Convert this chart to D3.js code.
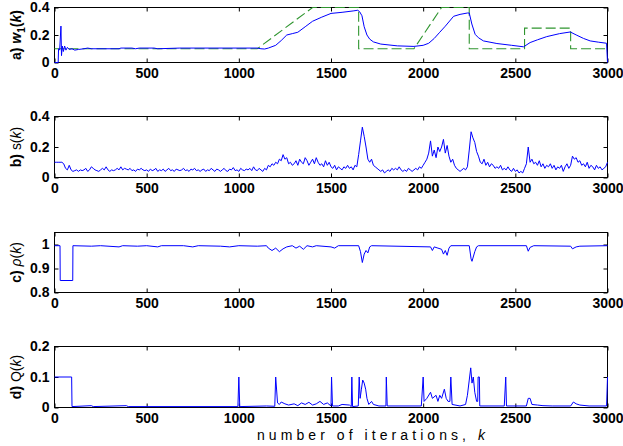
<!DOCTYPE html>
<html>
<head>
<meta charset="utf-8">
<script src="https://cdn.jsdelivr.net/npm/d3@7"></script>
<style>
body{margin:0;background:#fff}
svg text{font-family:'Liberation Sans',Arial,Helvetica,sans-serif}
.tick text{font-size:14px;font-weight:bold}
.domain{display:none}
.blue{fill:none;stroke:#0000ff;stroke-width:1}
.target{fill:none;stroke:#2f952f;stroke-width:1.1;stroke-dasharray:10,4}
</style>
</head>
<body>
<svg id="chart" width="623" height="446"></svg>
<script>
var kTicks = [0, 500, 1000, 1500, 2000, 2500, 3000]

// a) desired weight (dashed) and estimate w1(k), as [k, value]
var w1Target = [
  [0,0.1],[1100,0.1],[1400,0.4],[1650,0.4],[1650,0.1],[1950,0.1],[2100,0.4],
  [2250,0.4],[2250,0.1],[2550,0.1],[2550,0.25],[2800,0.25],[2800,0.1],[3000,0.1]
]
var w1 = [
  [0,0],[20,0],[22,0.1],[28,0.09],[35,0.265],[38,0.05],[42,0.12],[48,0.08],[55,0.12],
  [62,0.09],[70,0.11],[80,0.095],[95,0.1],[110,0.09],[130,0.095],[160,0.1],[180,0.105],
  [200,0.1],[350,0.1],[360,0.105],[420,0.105],[440,0.1],[460,0.105],[540,0.105],[560,0.1],
  [680,0.105],[1100,0.105],[1120,0.1],[1140,0.098],[1160,0.105],[1200,0.125],[1230,0.16],
  [1260,0.2],[1290,0.21],[1320,0.22],[1360,0.26],[1400,0.3],[1450,0.33],[1500,0.357],
  [1560,0.365],[1620,0.375],[1645,0.38],[1655,0.37],[1668,0.34],[1680,0.26],[1695,0.2],
  [1710,0.17],[1730,0.15],[1770,0.134],[1860,0.121],[1950,0.117],[2000,0.125],[2030,0.14],
  [2060,0.175],[2090,0.22],[2120,0.264],[2165,0.336],[2200,0.35],[2240,0.36],[2250,0.36],
  [2264,0.28],[2282,0.205],[2300,0.18],[2327,0.157],[2400,0.138],[2480,0.125],[2545,0.114],
  [2580,0.145],[2620,0.165],[2670,0.188],[2740,0.21],[2798,0.222],[2834,0.198],[2870,0.175],
  [2906,0.157],[2950,0.148],[2995,0.14],[3000,0]
]

// b) s(k), one value every 10 iterations from k = 0 to 3000
var sStep = 10
var sValues = [
  0.10,0.10,0.10,0.10,0.10,0.09,0.06,0.05,0.08,0.05,
  0.04,0.045,0.05,0.04,0.05,0.045,0.05,0.06,0.04,0.05,
  0.07,0.06,0.05,0.045,0.04,0.05,0.06,0.05,0.07,0.05,
  0.04,0.05,0.045,0.05,0.06,0.05,0.07,0.05,0.06,0.055,
  0.05,0.06,0.045,0.05,0.04,0.055,0.05,0.06,0.05,0.045,
  0.05,0.04,0.055,0.045,0.05,0.06,0.04,0.05,0.045,0.055,
  0.04,0.05,0.06,0.045,0.05,0.04,0.055,0.05,0.045,0.05,
  0.06,0.045,0.05,0.04,0.055,0.05,0.06,0.045,0.05,0.04,
  0.05,0.055,0.04,0.05,0.045,0.06,0.05,0.04,0.055,0.05,
  0.04,0.05,0.06,0.045,0.04,0.055,0.05,0.065,0.045,0.05,
  0.04,0.06,0.05,0.045,0.055,0.05,0.06,0.045,0.07,0.05,
  0.045,0.06,0.05,0.04,0.06,0.05,0.08,0.07,0.09,0.08,
  0.10,0.09,0.12,0.11,0.15,0.12,0.13,0.09,0.10,0.08,
  0.09,0.11,0.08,0.12,0.10,0.09,0.13,0.11,0.08,0.10,
  0.12,0.09,0.13,0.10,0.08,0.09,0.07,0.11,0.08,0.10,
  0.07,0.06,0.08,0.05,0.07,0.06,0.05,0.07,0.06,0.08,
  0.06,0.07,0.05,0.08,0.07,0.15,0.24,0.33,0.27,0.20,
  0.12,0.10,0.12,0.08,0.07,0.06,0.05,0.04,0.05,0.03,
  0.04,0.05,0.04,0.06,0.05,0.06,0.05,0.07,0.05,0.04,
  0.05,0.04,0.06,0.05,0.04,0.05,0.06,0.05,0.07,0.06,
  0.08,0.10,0.12,0.16,0.24,0.14,0.18,0.13,0.20,0.17,
  0.20,0.25,0.16,0.21,0.14,0.10,0.12,0.08,0.06,0.05,
  0.04,0.05,0.06,0.05,0.07,0.18,0.30,0.26,0.23,0.17,
  0.14,0.10,0.09,0.12,0.08,0.10,0.07,0.09,0.08,0.06,
  0.07,0.06,0.08,0.05,0.06,0.05,0.07,0.05,0.04,0.06,
  0.04,0.05,0.03,0.04,0.03,0.06,0.09,0.20,0.10,0.12,
  0.09,0.10,0.08,0.11,0.07,0.09,0.06,0.08,0.07,0.09,
  0.06,0.08,0.05,0.07,0.06,0.08,0.04,0.07,0.09,0.06,
  0.08,0.14,0.12,0.13,0.10,0.11,0.08,0.09,0.07,0.10,
  0.06,0.08,0.07,0.05,0.08,0.06,0.07,0.05,0.06,0.07,
  0.10
]

// c) rho(k), as [k, value]
var rho = [
  [0,0.995],[30,0.995],[31,0.85],[99,0.85],[100,0.995],[200,0.993],[250,0.995],[350,0.99],
  [370,0.995],[450,0.993],[500,0.995],[560,0.99],[580,0.995],[700,0.995],[750,0.99],[780,0.995],
  [900,0.993],[950,0.99],[1000,0.995],[1100,0.993],[1150,0.995],[1160,0.985],[1180,0.975],
  [1200,0.985],[1220,0.97],[1240,0.982],[1260,0.99],[1290,0.995],[1310,0.985],[1330,0.993],
  [1350,0.98],[1370,0.995],[1400,0.99],[1420,0.995],[1500,0.99],[1520,0.985],[1540,0.995],
  [1650,0.995],[1660,0.97],[1670,0.925],[1680,0.96],[1690,0.975],[1700,0.965],[1710,0.99],
  [1720,0.995],[2040,0.99],[2050,0.975],[2060,0.99],[2080,0.985],[2100,0.98],[2110,0.96],
  [2120,0.975],[2130,0.955],[2140,0.985],[2150,0.995],[2250,0.995],[2260,0.94],[2265,0.93],
  [2280,0.97],[2290,0.99],[2300,0.995],[2560,0.995],[2570,0.972],[2580,0.988],[2600,0.995],
  [2800,0.993],[2810,0.982],[2830,0.99],[2850,0.993],[3000,0.995]
]

// d) Q(k), as [k, value]
var Q = [
  [0,0.1],[93,0.1],[95,0.003],[200,0.006],[210,0.003],[390,0.006],[400,0.003],[995,0.003],
  [1000,0.1],[1005,0.003],[1150,0.005],[1195,0.004],[1200,0.1],[1210,0.015],[1220,0.01],
  [1230,0.018],[1250,0.012],[1270,0.008],[1300,0.012],[1320,0.006],[1340,0.015],[1360,0.01],
  [1380,0.017],[1400,0.008],[1420,0.012],[1440,0.02],[1460,0.01],[1480,0.015],[1500,0.005],
  [1503,0.1],[1508,0.005],[1540,0.005],[1560,0.01],[1600,0.008],[1610,0.003],[1613,0.1],
  [1617,0.003],[1648,0.005],[1653,0.1],[1658,0.03],[1665,0.06],[1672,0.09],[1680,0.08],
  [1688,0.06],[1695,0.03],[1705,0.01],[1720,0.02],[1730,0.01],[1760,0.005],[1798,0.005],
  [1800,0.1],[1805,0.005],[1990,0.005],[2000,0.1],[2005,0.02],[2020,0.03],[2040,0.05],
  [2050,0.03],[2070,0.04],[2080,0.02],[2090,0.04],[2100,0.03],[2115,0.06],[2125,0.03],
  [2135,0.02],[2145,0.02],[2150,0.1],[2157,0.01],[2200,0.005],[2230,0.01],[2240,0.04],
  [2250,0.09],[2258,0.13],[2265,0.08],[2272,0.1],[2280,0.05],[2290,0.02],[2296,0.02],
  [2298,0.1],[2305,0.1],[2307,0.005],[2440,0.005],[2448,0.1],[2452,0.005],[2560,0.005],
  [2570,0.03],[2580,0.03],[2590,0.01],[2620,0.008],[2650,0.006],[2700,0.005],[2800,0.005],
  [2815,0.018],[2830,0.012],[2850,0.008],[2900,0.005],[2995,0.005],[3000,0.1]
]

var sK = sValues.map(function(v, i){ return [i * sStep, v] })

var panels = [
  {label: 'a', top: 7.5, bottom: 62.5, domain: [0, 0.4], ticks: [0, 0.2, 0.4], series: [w1Target, w1]},
  {label: 'b', top: 116.5, bottom: 177.5, domain: [0, 0.4], ticks: [0, 0.2, 0.4], series: [sK]},
  {label: 'c', top: 232.5, bottom: 292.5, domain: [0.8, 1.05], ticks: [0.8, 0.9, 1], series: [rho]},
  {label: 'd', top: 346.5, bottom: 407.5, domain: [0, 0.2], ticks: [0, 0.1, 0.2], series: [Q]}
]

var svg = d3.select('#chart')
var x = d3.scaleLinear().domain([0, 3000]).range([54.5, 607.5])

panels.forEach(function(p){
  var y = d3.scaleLinear().domain(p.domain).range([p.bottom, p.top])
  var g = svg.append('g')
  var line = d3.line().x(function(d){ return x(d[0]) }).y(function(d){ return y(d[1]) })

  g.append('rect')
    .attr('x', x.range()[0]).attr('y', p.top)
    .attr('width', x.range()[1] - x.range()[0]).attr('height', p.bottom - p.top)
    .attr('fill', 'none').attr('stroke', '#000')

  g.append('g').attr('transform', 'translate(0,' + p.bottom + ')')
    .call(d3.axisBottom(x).tickValues(kTicks).tickSize(-4).tickPadding(6).tickFormat(d3.format('d')))
  g.append('g').attr('transform', 'translate(0,' + p.top + ')')
    .call(d3.axisTop(x).tickValues(kTicks).tickSize(-4).tickFormat(''))
  g.append('g').attr('transform', 'translate(' + x.range()[0] + ',0)')
    .call(d3.axisLeft(y).tickValues(p.ticks).tickSize(-4).tickPadding(5).tickFormat(String))
  g.append('g').attr('transform', 'translate(' + x.range()[1] + ',0)')
    .call(d3.axisRight(y).tickValues(p.ticks).tickSize(-4).tickFormat(''))

  // lines go over the box, as in the reference
  p.series.forEach(function(s){
    g.append('path')
      .attr('class', s === w1Target ? 'target' : 'blue')
      .attr('d', line(s))
  })

  // rotated panel label
  var t = g.append('text')
    .attr('transform', 'translate(21,' + (p.top + p.bottom) / 2 + ') rotate(-90)')
    .attr('text-anchor', 'middle')
    .style('font-size', '14px')
  t.append('tspan').style('font-weight', 'bold').text(p.label + ') ')
  if (p.label == 'a'){
    t.append('tspan').style('font-weight', 'bold').style('font-style', 'italic').text('w')
    t.append('tspan').style('font-weight', 'bold').style('font-size', '10px').attr('dy', 4).text('1')
    t.append('tspan').style('font-weight', 'bold').attr('dy', -4).text('(')
    t.append('tspan').style('font-weight', 'bold').style('font-style', 'italic').text('k')
    t.append('tspan').style('font-weight', 'bold').text(')')
  } else {
    var sym = {b: 's', c: 'ρ', d: 'Q'}[p.label]
    t.append('tspan').style('font-style', p.label == 'c' ? 'italic' : 'normal').text(sym)
    t.append('tspan').text('(')
    t.append('tspan').style('font-style', 'italic').text('k')
    t.append('tspan').text(')')
  }
})

var xl = svg.append('text')
  .attr('x', 371).attr('y', 440)
  .attr('text-anchor', 'middle')
  .attr('textLength', 228).attr('lengthAdjust', 'spacing')
  .style('font-size', '14px')
xl.append('tspan').text('number of iterations, ')
xl.append('tspan').style('font-style', 'italic').text('k')
</script>
</body>
</html>
